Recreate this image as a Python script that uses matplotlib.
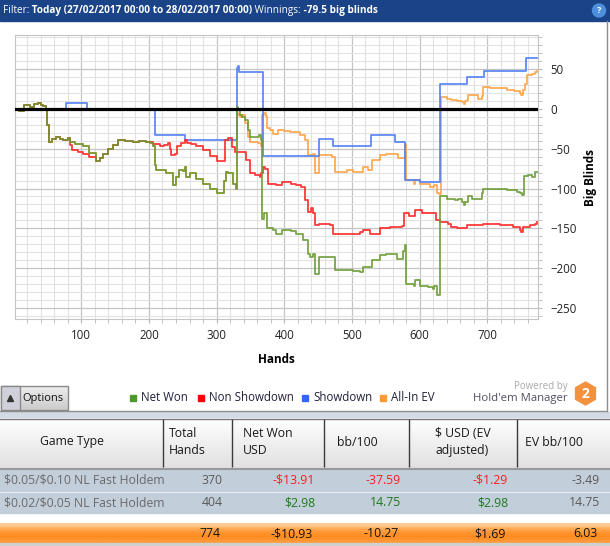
import numpy as np
import matplotlib
matplotlib.use('Agg')
import matplotlib.pyplot as plt
from matplotlib.patches import Rectangle, RegularPolygon, Circle
from matplotlib.ticker import MultipleLocator

plt.rcParams['font.family'] = ['Open Sans', 'DejaVu Sans']
plt.rcParams['text.parse_math'] = False

# Cumulative results in big blinds (hand number, value).
net_won_hands = [1, 8, 16, 24, 30, 36, 40, 43, 48, 50, 52, 56, 63, 68, 73, 80, 84, 90,
                 102, 112, 122, 127, 132, 140, 147, 154, 165, 176, 186, 196, 201, 206,
                 209, 211, 218, 225, 231, 236, 240, 245, 250, 253, 255, 260, 270, 280,
                 290, 300, 307, 311, 314, 317, 324, 328, 330, 331, 334, 338, 342, 346,
                 349, 359, 362, 366, 367, 370, 374, 383, 388, 396, 410, 418, 428, 435,
                 438, 443, 445, 449, 452, 470, 475, 492, 502, 512, 517, 524, 529, 541,
                 551, 563, 566, 573, 576, 578, 580, 591, 593, 600, 613, 620, 622, 625,
                 629, 630, 640, 652, 657, 662, 665, 667, 672, 677, 689, 692, 694, 709,
                 719, 729, 744, 748, 751, 755, 760, 766, 771, 774]
net_won_bb = [0, -2, 5, 3, 6, 8, 5, 4, -1, -20, -41, -38, -35, -38, -39, -37, -42, -44,
              -47, -55, -65, -62, -56, -50, -45, -39, -40, -41, -40, -41, -43, -47,
              -70, -77, -77, -80, -81, -96, -85, -77, -78, -73, -85, -81, -88, -94,
              -100, -106, -106, -90, -79, -80, -94, -101, 3, -1, -8, -10, -14, -26,
              -35, -35, -33, -39, -138, -131, -150, -152, -157, -152, -154, -157, -165, -182,
              -186, -182, -207, -207, -186, -186, -203, -203, -204, -205, -199, -199, -190, -184,
              -182, -182, -188, -188, -178, -171, -220, -222, -215, -222, -224, -226, -222, -234,
              -234, -110, -113, -115, -113, -117, -121, -117, -110, -113, -113, -106, -100, -100,
              -101, -102, -104, -106, -108, -84, -83, -85, -79, -79.5]

non_sd_hands = [1, 8, 16, 24, 30, 36, 40, 43, 48, 50, 52, 56, 63, 68, 73, 80, 84, 86,
                95, 102, 112, 122, 127, 132, 140, 147, 154, 165, 176, 186, 196, 201,
                206, 216, 222, 228, 231, 233, 238, 241, 248, 253, 256, 262, 270, 280,
                290, 300, 307, 312, 317, 322, 327, 339, 344, 349, 356, 364, 366, 369,
                371, 376, 388, 396, 410, 418, 425, 430, 435, 439, 443, 445, 452, 467,
                472, 492, 507, 512, 517, 527, 539, 541, 556, 571, 574, 577, 585, 593,
                603, 620, 624, 630, 642, 647, 655, 665, 670, 694, 705, 719, 738, 748,
                750, 753, 763, 770, 774]
non_sd_bb = [0, -2, 5, 3, 6, 8, 5, 4, -1, -20, -41, -38, -35, -38, -39, -37, -45, -52,
             -54, -56, -60, -65, -62, -56, -50, -45, -39, -40, -41, -40, -41, -42,
             -44, -47, -45, -43, -50, -58, -56, -47, -43, -39, -43, -44, -47, -52,
             -59, -66, -66, -39, -37, -48, -54, -54, -64, -81, -83, -85, -81, -73,
             -76, -94, -96, -92, -94, -96, -98, -115, -129, -124, -131, -146, -144, -146,
             -157, -157, -157, -155, -152, -157, -157, -150, -148, -148, -147, -131, -134, -127,
             -131, -131, -140, -142, -144, -148, -149, -150, -146, -144, -145, -146, -148, -152,
             -155, -148, -146, -145, -142]

showdown_hands = [1, 78, 109, 209, 254, 330, 331, 333, 368, 451, 472, 528, 564, 579,
                  600, 630, 670, 695, 757, 774]
showdown_bb = [0, 7.5, 0, -33, -39, 51, 54, 47, -59, -38, -47, -33, -41, -89,
               -92, 32, 40, 48, 64, 64]

# All-In EV matches Net Won up to the first big all-in at hand 330.
ev_tail_hands = [330, 332, 334, 338, 342, 346, 349, 361, 365, 367, 370, 373, 375, 379,
                 384, 391, 400, 408, 423, 430, 435, 442, 445, 450, 452, 470, 475, 492,
                 502, 512, 517, 524, 529, 541, 551, 563, 568, 576, 578, 580, 591, 593,
                 600, 615, 622, 625, 629, 631, 640, 647, 655, 662, 665, 667, 670, 672,
                 679, 687, 692, 694, 704, 709, 722, 729, 740, 748, 750, 753, 756, 759,
                 766, 770, 774]
ev_tail_bb = [-5, -8, -10, -8, -18, -35, -41, -43, -47, -8, -5, -9, -24, -26,
              -31, -26, -28, -29, -33, -39, -58, -56, -81, -81, -58, -60, -79, -77,
              -79, -79, -73, -77, -64, -58, -56, -56, -62, -62, -44, -89, -94, -89,
              -94, -98, -96, -106, -107, 15, 12, 11, 10, 9, 6, 10, 11, 18,
              18, 13, 16, 28, 27, 26, 26, 24, 22, 20, 18, 24, 32, 43,
              44, 47, 48]
n_shared = sum(1 for h in net_won_hands if h < 330)
all_in_ev_hands = net_won_hands[:n_shared] + ev_tail_hands
all_in_ev_bb = net_won_bb[:n_shared] + ev_tail_bb

series_names = ['Net Won', 'Non Showdown', 'Showdown', 'All-In EV']
line_colors = ['#6b9b35', '#ff2424', '#4e7ef5', '#ffa245']
legend_colors = ['#4c9a2a', '#ff0000', '#3366ff', '#ff9a33']

x_ticks = [100, 200, 300, 400, 500, 600, 700]
y_ticks = [-250, -200, -150, -100, -50, 0, 50]

# Summary table
col_headers = ['Game Type', 'Total\nHands', 'Net Won\nUSD', 'bb/100',
               '$ USD (EV\nadjusted)', 'EV bb/100']
game_types = ['$0.05/$0.10 NL Fast Holdem', '$0.02/$0.05 NL Fast Holdem']
total_hands = [370, 404]
net_won_usd = [-13.91, 2.98]
bb_per_100 = [-37.59, 14.75]
ev_usd = [-1.29, 2.98]
ev_bb_per_100 = [-3.49, 14.75]
totals = [774, -10.93, -10.27, 1.69, 6.03]


def money(v):
    return f'-${abs(v):.2f}' if v < 0 else f'${v:.2f}'


fig = plt.figure(figsize=(6.1, 5.46), dpi=100, facecolor='white')

# pixel-space canvas for the surrounding UI
bg = fig.add_axes([0, 0, 1, 1], zorder=0)
bg.axis('off')

# title bar
bg.add_patch(Rectangle((0, 0), 610, 21, color='#1a4487'))
t = bg.text(3, 10.5, 'Filter:', color='white', fontsize=7.2, va='center')
for i, part in enumerate([' Today (27/02/2017 00:00 to 28/02/2017 00:00)', ' Winnings:',
                          ' -79.5 big blinds']):
    t = bg.annotate(part, xy=(1, 0.5), xycoords=t, va='center', ha='left',
                    color='white', fontsize=7.2,
                    fontweight='bold' if i != 1 else 'normal')
bg.add_patch(Circle((599, 10.5), 6.5, color='#4d8fdc'))
bg.text(599, 10.5, '?', color='white', fontsize=6.5, fontweight='bold', ha='center', va='center')

# panel borders
bg.plot([607, 607], [21, 411], color='#8e8e8e', lw=1)
bg.plot([0, 607], [410.5, 410.5], color='#8e8e8e', lw=1)

# Options button
grad = np.linspace(0.93, 0.80, 20)[:, None, None] * np.ones((1, 1, 3))
bg.imshow(grad, extent=(1, 68, 410, 386), aspect='auto', zorder=1)
bg.add_patch(Rectangle((1, 386), 67, 24, fill=False, ec='#8a8a8a', lw=1, zorder=2))
bg.add_patch(Rectangle((1, 386), 19, 24, fc='#cfd0da', ec='#8a8a8a', lw=1, zorder=2))
bg.plot([10], [397.5], marker='^', ms=4, color='#333333', zorder=3)
bg.text(22, 398.5, 'Options', fontsize=8, va='center', color='#111111', zorder=3)

# legend
legend_x = [133, 201, 305, 383]
for x, name, c in zip(legend_x, series_names, legend_colors):
    bg.add_patch(Rectangle((x - 3, 394.5), 6, 6, color=c))
    bg.text(x + 8, 397.5, name, fontsize=8.3, va='center', color='#20203a')

# Powered by logo
bg.text(568, 386, 'Powered by', ha='right', va='center', fontsize=7, color='#a8a8a8')
bg.text(568, 398.5, "Hold'em Manager", ha='right', va='center', fontsize=8.2, color='#4f5060')
bg.add_patch(RegularPolygon((585.5, 393.5), numVertices=6, radius=11.5, color='#f3913f'))
bg.text(585.5, 394, '2', ha='center', va='center', fontsize=10, fontweight='bold', color='white')

# table
bg.add_patch(Rectangle((0, 411.5), 610, 6.5, color='#d2dbe5'))
head_grad = np.linspace(1.0, 0.88, 40)[:, None, None] * np.ones((1, 1, 3))
bg.imshow(head_grad, extent=(0, 610, 468, 418), aspect='auto', zorder=1)
bg.plot([0, 610], [418.5, 418.5], color='#777777', lw=1)
bg.plot([0, 610], [468.5, 468.5], color='#999999', lw=1.5)
col_edges = [0, 163, 232, 324, 409, 517, 610]
bg.vlines(col_edges[1:-1], 419, 467, color='#3c3c3c', lw=1, zorder=2)

head_pos = [(72, 'center'), (169, 'left'), (268, 'center'), (337, 'left'),
            (463, 'center'), (525, 'left')]
for (x, ha), label in zip(head_pos, col_headers):
    bg.text(x, 442, label, ha=ha, va='center', fontsize=8.8, color='#1a1a1a',
            linespacing=1.35, multialignment='left', zorder=3)

row_tops = [470, 492.5]
value_right = [222.5, 315, 401, 508, 600]
for r, top in enumerate(row_tops):
    bg.add_patch(Rectangle((0, top), 610, 20.5, color='#c3cedb', zorder=1))
    yc = top + 10.5
    clip = Rectangle((0, top), 159, 21, transform=bg.transData)
    gt = bg.text(4, yc, game_types[r], ha='left', va='center', fontsize=8.8,
                 color='#6a6a6a', zorder=3)
    gt.set_clip_path(clip)
    cells = [(str(total_hands[r]), '#5a5a5a'),
             (money(net_won_usd[r]), '#ff1c1c' if net_won_usd[r] < 0 else '#1b7a1b'),
             (f'{bb_per_100[r]:.2f}', '#ff1c1c' if bb_per_100[r] < 0 else '#1b7a1b'),
             (money(ev_usd[r]), '#ff1c1c' if ev_usd[r] < 0 else '#1b7a1b'),
             (f'{ev_bb_per_100[r]:.2f}', '#5a5a5a')]
    for x, (txt, c) in zip(value_right, cells):
        bg.text(x, yc, txt, ha='right', va='center', fontsize=8.8, color=c, zorder=3)

orange = np.array([[1.0, 0.80, 0.58], [1.0, 0.66, 0.32], [1.0, 0.58, 0.18],
                   [1.0, 0.55, 0.13], [1.0, 0.60, 0.22]])[:, None, :]
bg.imshow(orange, extent=(0, 610, 543, 523), aspect='auto', zorder=1, interpolation='bilinear')
bg.add_patch(Rectangle((0, 543), 610, 3, color='#d0d0d0', zorder=1))
total_txt = [str(totals[0]), money(totals[1]), f'{totals[2]:.2f}', money(totals[3]),
             f'{totals[4]:.2f}']
for x, txt in zip(value_right, total_txt):
    bg.text(x - 2, 533.5, txt, ha='right', va='center', fontsize=8.8, color='#151515', zorder=3)

bg.set_xlim(0, 610)
bg.set_ylim(546, 0)

# the graph
ax = fig.add_axes([15 / 610, 1 - 319 / 546, 523 / 610, 284 / 546], zorder=2)
ax.set_facecolor('white')
series = [(all_in_ev_hands, all_in_ev_bb, line_colors[3]),
          (showdown_hands, showdown_bb, line_colors[2]),
          (non_sd_hands, non_sd_bb, line_colors[1]),
          (net_won_hands, net_won_bb, line_colors[0])]
for h, v, c in series:
    ax.plot(h, v, drawstyle='steps-post', color=c, lw=1.3, alpha=0.9)
ax.axhline(0, color='black', lw=2.3, zorder=5)

ax.set_xlim(2, 775)
ax.set_ylim(-264, 93)
ax.set_xticks(x_ticks)
ax.set_yticks(y_ticks)
ax.xaxis.set_minor_locator(MultipleLocator(20))
ax.yaxis.set_minor_locator(MultipleLocator(10))
ax.yaxis.tick_right()
ax.yaxis.set_label_position('right')
ax.grid(which='major', color='#c4c4c4', lw=0.9)
ax.grid(which='minor', color='#e2e2e2', lw=0.8)
ax.set_axisbelow(True)
ax.tick_params(which='both', direction='out', length=3, color='#b8b8b8',
               labelsize=8.3, labelcolor='#222222')
ax.tick_params(axis='y', pad=6)
ax.tick_params(axis='x', pad=4)
for s in ax.spines.values():
    s.set_color('#c4c4c4')
ax.set_xlabel('Hands', fontweight='bold', fontsize=8.5, labelpad=8)
ax.set_ylabel('Big Blinds', fontweight='bold', fontsize=8.5, labelpad=5)

fig.savefig('out.png', dpi=100)
